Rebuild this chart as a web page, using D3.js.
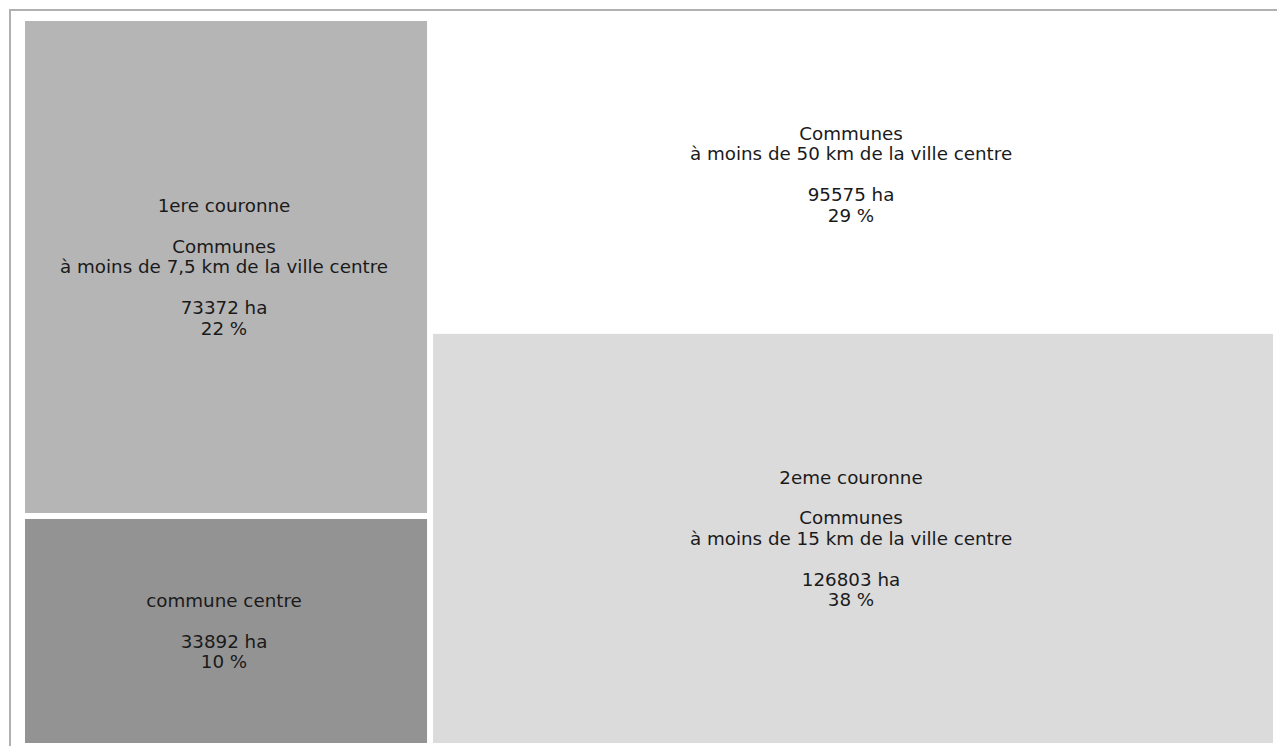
<!DOCTYPE html>
<html>
<head>
<meta charset="utf-8">
<script src="https://cdn.jsdelivr.net/npm/d3@7"></script>
<style>
  html, body { margin: 0; padding: 0; background: #fff; overflow: hidden; }
  svg { display: block; }
  text { font-family: "DejaVu Sans", sans-serif; font-size: 18.3px; fill: #1a1a1a; }
</style>
</head>
<body>
<svg id="chart" width="1277" height="746"></svg>
<script>
// Data
const groups = ["gauche", "droite"];
const cellGroup = ["gauche", "gauche", "droite", "droite"];
const cellTitles = ["1ere couronne", "commune centre", "", "2eme couronne"];
const cellDescriptions = [
  ["Communes", "à moins de 7,5 km de la ville centre"],
  [],
  ["Communes", "à moins de 50 km de la ville centre"],
  ["Communes", "à moins de 15 km de la ville centre"]
];
const cellValues = [73372, 33892, 95575, 126803];
const cellColors = ["#b5b5b5", "#939393", "#ffffff", "#dbdbdb"];

const total = d3.sum(cellValues);

const svg = d3.select("#chart");

// outer frame
svg.append("rect")
  .attr("x", 10).attr("y", 10)
  .attr("width", 1400).attr("height", 900)
  .attr("fill", "none")
  .attr("stroke", "#b0b0b0")
  .attr("stroke-width", 2);

const rootData = {
  name: "root",
  children: groups.map(g => ({
    name: g,
    children: cellValues.map((v, i) => ({ i, value: v, group: cellGroup[i] }))
      .filter(c => c.group === g)
  }))
};

const root = d3.hierarchy(rootData).sum(d => d.value || 0);

d3.treemap()
  .tile(d3.treemapSliceDice)
  .size([1248, 722])
  .paddingInner(6)
  .round(false)(root);

const g = svg.append("g").attr("transform", "translate(25,21)");

const leaves = g.selectAll("g.cell")
  .data(root.leaves())
  .join("g")
  .attr("class", "cell");

leaves.append("rect")
  .attr("x", d => d.x0)
  .attr("y", d => d.y0)
  .attr("width", d => d.x1 - d.x0)
  .attr("height", d => d.y1 - d.y0)
  .attr("fill", d => cellColors[d.data.i]);

const lineH = 20.4;
leaves.each(function(d) {
  const i = d.data.i;
  const lines = [];
  if (cellTitles[i]) { lines.push(cellTitles[i]); if (cellDescriptions[i].length) lines.push(""); }
  cellDescriptions[i].forEach(l => lines.push(l));
  lines.push("");
  lines.push(cellValues[i] + " ha");
  lines.push(Math.round(cellValues[i] / total * 100) + " %");
  const cx = (d.x0 + d.x1) / 2;
  const cy = (d.y0 + d.y1) / 2;
  const n = lines.length;
  const t = d3.select(this).append("text")
    .attr("text-anchor", "middle");
  lines.forEach((l, k) => {
    t.append("tspan")
      .attr("x", cx - 2)
      .attr("y", cy + (k - (n - 1) / 2) * lineH)
      .attr("dy", "0.35em")
      .text(l);
  });
});
</script>
</body>
</html>
